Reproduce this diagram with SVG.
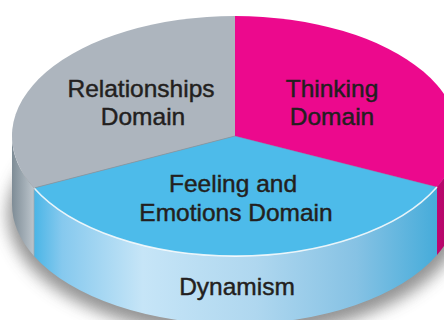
<svg xmlns="http://www.w3.org/2000/svg" width="444" height="320" viewBox="0 0 444 320">
  <defs>
    <filter id="blur" x="-20%" y="-20%" width="140%" height="140%">
      <feGaussianBlur stdDeviation="8"/>
    </filter>
    <linearGradient id="blueSide" gradientUnits="userSpaceOnUse" x1="34" y1="0" x2="437" y2="0">
      <stop offset="0" stop-color="#4ab5e6"/>
      <stop offset="0.07" stop-color="#86c9ee"/>
      <stop offset="0.27" stop-color="#c6e5f7"/>
      <stop offset="0.55" stop-color="#afd7ef"/>
      <stop offset="0.8" stop-color="#86c2e4"/>
      <stop offset="1" stop-color="#46acda"/>
    </linearGradient>
    <linearGradient id="graySide" gradientUnits="userSpaceOnUse" x1="12" y1="0" x2="34" y2="0">
      <stop offset="0" stop-color="#7e8c96"/>
      <stop offset="1" stop-color="#bcc5cc"/>
    </linearGradient>
    <linearGradient id="magSide" gradientUnits="userSpaceOnUse" x1="437" y1="0" x2="458" y2="0">
      <stop offset="0" stop-color="#c0076f"/>
      <stop offset="1" stop-color="#a00560"/>
    </linearGradient>
  </defs>
  <style>
    .lbl { font-family: "Liberation Sans", Arial, sans-serif; font-size: 24.5px; fill: #231f20; stroke: #231f20; stroke-width: 0.45px; text-anchor: middle; }
  </style>
  <rect width="444" height="320" fill="#ffffff"/>
  <ellipse cx="236" cy="214" rx="228" ry="122" fill="#808080" filter="url(#blur)" opacity="0.85"/>

  <g id="relationships">
    <path d="M12,136 A223,120 0 0 0 34,188 L34,256 A223,120 0 0 1 12,204 Z" fill="url(#graySide)"/>
    <path d="M235,136 L235,16 A223,120 0 0 0 34,188 Z" fill="#adb5be"/>
    <text class="lbl" x="141" y="97">Relationships</text>
    <text class="lbl" x="143" y="125">Domain</text>
  </g>

  <g id="thinking">
    <path d="M437,187 A223,120 0 0 0 458,136 L458,204 A223,120 0 0 1 437,255 Z" fill="url(#magSide)"/>
    <path d="M235,136 L235,16 A223,120 0 0 1 437,187 Z" fill="#ec098d"/>
    <text class="lbl" x="332" y="97">Thinking</text>
    <text class="lbl" x="332" y="125">Domain</text>
  </g>

  <g id="feeling">
    <path d="M34,188 A223,120 0 0 0 437,187 L437,255 A223,120 0 0 1 34,256 Z" fill="url(#blueSide)"/>
    <path d="M235,136 L34,188 A223,120 0 0 0 437,187 Z" fill="#4dbbea"/>
    <text class="lbl" x="233" y="192">Feeling and</text>
    <text class="lbl" x="236" y="221">Emotions Domain</text>
  </g>

  <g id="dynamism">
    <text class="lbl" x="237" y="295">Dynamism</text>
  </g>

  <g id="dividers" fill="none">
    <path d="M235,136 L34,188" stroke="#8a949d" stroke-width="0.8"/>
    <path d="M235,136 L437,187" stroke="#c0478f" stroke-width="0.6" opacity="0.6"/>
    <path d="M34,188 A223,120 0 0 0 437,187" stroke="#ffffff" stroke-width="1.6" opacity="0.85"/>
    <path d="M34,188 L34,256" stroke="#9aa7b0" stroke-width="0.8"/>
  </g>
</svg>
